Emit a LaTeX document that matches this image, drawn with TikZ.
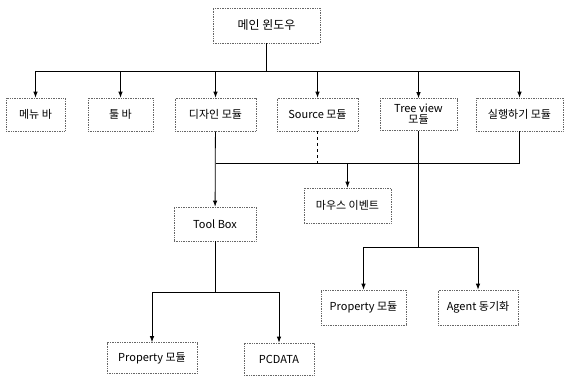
\documentclass[tikz,border=0pt]{standalone}
\usepackage{fontspec}
\setmainfont{Noto Sans CJK KR}
\usetikzlibrary{arrows.meta}
\begin{document}
\begin{tikzpicture}[x=1pt,y=-1pt,
  box/.style={draw=black!60, densely dotted, line width=0.7pt, rectangle, inner sep=1pt,
    font=\fontsize{11}{12}\selectfont, align=center},
  conn/.style={draw=black, line width=0.8pt},
  arr/.style={conn, -{Latex[length=6pt,width=4.5pt]}}]
\useasboundingbox (0,0) rectangle (567,378);
\node[box, minimum width=107pt, minimum height=35pt, font=\fontsize{12}{13}\selectfont] (main) at (266.5,25.5) {메인 윈도우};
\node[box, minimum width=59pt, minimum height=33pt] (menu) at (35.5,114.5) {메뉴 바};
\node[box, minimum width=65pt, minimum height=33pt] (toolbar) at (120.5,114.5) {툴 바};
\node[box, minimum width=81pt, minimum height=33pt] (design) at (215.5,114.5) {디자인 모듈};
\node[box, minimum width=81pt, minimum height=33pt] (source) at (317.5,114.5) {Source 모듈};
\node[box, minimum width=77pt, minimum height=32pt, font=\fontsize{11}{11}\selectfont] (tree) at (418.5,114.5) {Tree view\\모듈};
\node[box, minimum width=87pt, minimum height=33pt] (run) at (519.5,114.5) {실행하기 모듈};
\node[box, minimum width=87pt, minimum height=35pt] (mouse) at (347.5,205.5) {마우스 이벤트};
\node[box, minimum width=82pt, minimum height=34pt] (toolbox) at (215,224) {Tool Box};
\node[box, minimum width=90pt, minimum height=31pt] (prop1) at (152,358) {Property 모듈};
\node[box, minimum width=70pt, minimum height=32pt] (pcdata) at (279,359) {PCDATA};
\node[box, minimum width=85pt, minimum height=35pt] (prop2) at (363.5,307.5) {Property 모듈};
\node[box, minimum width=80pt, minimum height=35pt] (agent) at (478,307.5) {Agent 동기화};
% top bus
\coordinate (b1) at (266.5,71);
\draw[conn] (main) -- (b1);
\foreach \n in {menu,toolbar,design,source,tree,run} \draw[arr] (b1) -| (\n);
% middle bus to mouse event
\coordinate (m) at (347.5,163);
\draw[arr] (design) -- (toolbox);
\draw[conn] (design.south |- m) -- (m);
\draw[conn, dashed] (source) -- (source |- m) -- (m);
\draw[conn] (run.south) |- (m);
\draw[arr] (m) -- (mouse);
% tree view children
\coordinate (bt) at (418.5,247);
\draw[conn] (tree) -- (bt);
\draw[arr] (bt) -| (prop2);
\draw[arr] (bt) -| (agent);
% tool box children
\coordinate (bb) at (215,292);
\draw[conn] (toolbox) -- (bb);
\draw[arr] (bb) -| (prop1);
\draw[arr] (bb) -| (pcdata);
\end{tikzpicture}
\end{document}
